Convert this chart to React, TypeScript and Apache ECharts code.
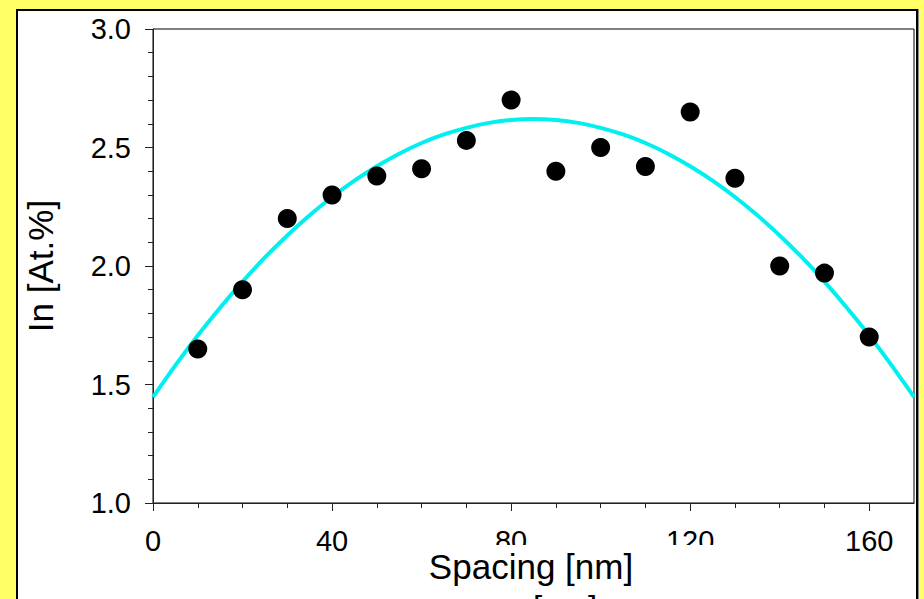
import React, { useEffect, useRef } from "react";
import * as echarts from "echarts";

// Measured points: Spacing [nm] vs In [At.%]
const spacing = [10, 20, 30, 40, 50, 60, 70, 80, 90, 100, 110, 120, 130, 140, 150, 160];
const inValues = [1.65, 1.9, 2.2, 2.3, 2.38, 2.41, 2.53, 2.7, 2.4, 2.5, 2.42, 2.65, 2.37, 2.0, 1.97, 1.7];

// Fitted curve
const fitX = [0, 5, 10, 15, 20, 25, 30, 35, 40, 45, 50, 55, 60, 65, 70, 75, 80, 85, 90, 95, 100, 105, 110, 115, 120, 125, 130, 135, 140, 145, 150, 155, 160, 165, 170];
const fitY = [
  1.447, 1.581, 1.707, 1.824, 1.934, 2.036, 2.129, 2.214, 2.291, 2.36, 2.421, 2.474, 2.519, 2.555, 2.583, 2.604, 2.616, 2.62,
  2.616, 2.604, 2.583, 2.555, 2.519, 2.474, 2.421, 2.36, 2.291, 2.214, 2.129, 2.036, 1.934, 1.824, 1.707, 1.581, 1.447,
];

const xMajorTicks = [0, 40, 80, 120, 160];
const xMinorTicks = [10, 20, 30, 50, 60, 70, 90, 100, 110, 130, 140, 150];

const FONT = "Liberation Sans, Arial, Helvetica, sans-serif";

export default function App() {
  const ref = useRef<HTMLDivElement>(null);

  useEffect(() => {
    if (!ref.current) return;
    const chart = echarts.init(ref.current, null, { renderer: "svg" });
    const axisColor = "#222";
    chart.setOption({
      animation: false,
      backgroundColor: "transparent",
      grid: {
        left: 153,
        right: 10,
        top: 29,
        bottom: 96,
        show: true,
        borderColor: "#000",
        borderWidth: 1,
        backgroundColor: "transparent",
      },
      xAxis: [
        {
          type: "value",
          min: 0,
          max: 170,
          axisLine: { show: true, lineStyle: { color: axisColor, width: 1 } },
          axisTick: { show: true, customValues: xMajorTicks, length: 8, lineStyle: { color: axisColor } },
          axisLabel: {
            show: true,
            customValues: xMajorTicks,
            margin: 23,
            fontSize: 29,
            fontFamily: FONT,
            color: "#000",
          },
          splitLine: { show: false },
        },
        {
          type: "value",
          min: 0,
          max: 170,
          position: "bottom",
          axisLine: { show: false },
          axisTick: { show: true, customValues: xMinorTicks, length: 5, lineStyle: { color: axisColor } },
          axisLabel: { show: false },
          splitLine: { show: false },
        },
      ],
      yAxis: {
        type: "value",
        min: 1,
        max: 3,
        interval: 0.5,
        axisLine: { show: true, lineStyle: { color: axisColor, width: 1 } },
        axisTick: { show: true, length: 8, lineStyle: { color: axisColor } },
        minorTick: { show: true, splitNumber: 5, length: 5, lineStyle: { color: axisColor } },
        axisLabel: {
          margin: 22,
          fontSize: 29,
          fontFamily: FONT,
          color: "#000",
          formatter: (v: number) => v.toFixed(1),
        },
        splitLine: { show: false },
        minorSplitLine: { show: false },
      },
      series: [
        {
          type: "line",
          xAxisIndex: 0,
          data: fitX.map((x, i) => [x, fitY[i]]),
          smooth: 0.3,
          symbol: "none",
          lineStyle: { color: "#00F0F0", width: 4 },
          z: 2,
        },
        {
          type: "scatter",
          xAxisIndex: 0,
          data: spacing.map((x, i) => [x, inValues[i]]),
          symbol: "circle",
          symbolSize: 19,
          itemStyle: { color: "#000", opacity: 1 },
          z: 3,
        },
      ],
      graphic: [
        {
          type: "rect",
          z: 50,
          shape: { x: 350, y: 545, width: 365, height: 70 },
          style: { fill: "#fff" },
        },
        {
          type: "text",
          z: 51,
          x: 531,
          y: 566,
          style: {
            text: "Spacing [nm]",
            font: `35px ${FONT}`,
            fill: "#000",
            align: "center",
            verticalAlign: "middle",
          },
        },
        {
          type: "text",
          z: 51,
          x: 565,
          y: 607,
          style: {
            text: "[nm]",
            font: `33px ${FONT}`,
            fill: "#000",
            align: "center",
            verticalAlign: "middle",
          },
        },
        {
          type: "text",
          z: 51,
          x: 40,
          y: 266,
          rotation: Math.PI / 2,
          style: {
            text: "In [At.%]",
            font: `35px ${FONT}`,
            fill: "#000",
            align: "center",
            verticalAlign: "middle",
          },
        },
      ],
    });
    return () => chart.dispose();
  }, []);

  return (
    <div
      style={{
        position: "fixed",
        left: 0,
        top: 0,
        width: 924,
        height: 599,
        overflow: "hidden",
        background: "#FFFF66",
      }}
    >
      <div
        style={{
          position: "absolute",
          left: 16,
          top: 9,
          width: 898,
          height: 700,
          background: "#fff",
          border: "2px solid #000",
          boxShadow: "1px 0 0 #888",
        }}
      />
      <div ref={ref} style={{ position: "absolute", left: 0, top: 0, width: 924, height: 599 }} />
    </div>
  );
}
